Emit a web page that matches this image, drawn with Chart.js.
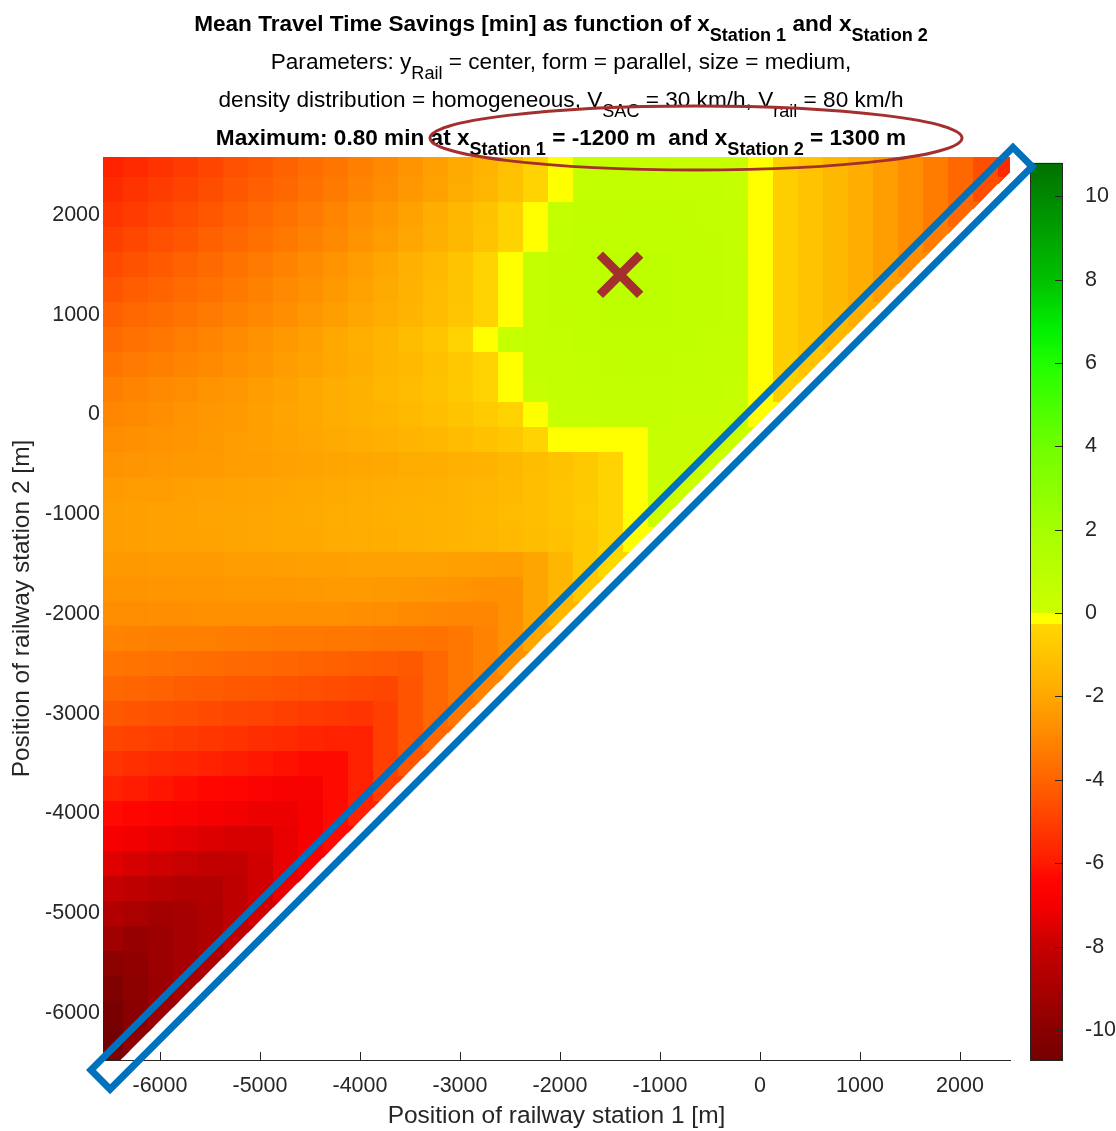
<!DOCTYPE html>
<html>
<head>
<meta charset="utf-8">
<script src="https://cdn.jsdelivr.net/npm/chart.js@4.4.1/dist/chart.umd.min.js"></script>
<style>
  html, body { margin: 0; padding: 0; background: #fff; }
  #wrap { width: 1116px; height: 1131px; }
</style>
</head>
<body>
<div id="wrap"><canvas id="savingsChart" width="1116" height="1131"></canvas></div>
<script>
const FONT = '"Liberation Sans", Arial, Helvetica, sans-serif';
const INK = '#262626';

// grid of station positions (m), 250 m apart
const X1_COLS = [-6500, -6250, -6000, -5750, -5500, -5250, -5000, -4750, -4500, -4250, -4000, -3750, -3500,
  -3250, -3000, -2750, -2500, -2250, -2000, -1750, -1500, -1250, -1000, -750, -500, -250, 0,
  250, 500, 750, 1000, 1250, 1500, 1750, 2000, 2250, 2500];
const X2_ROWS = [2500, 2250, 2000, 1750, 1500, 1250, 1000, 750, 500, 250, 0, -250, -500, -750, -1000,
  -1250, -1500, -1750, -2000, -2250, -2500, -2750, -3000, -3250, -3500, -3750, -4000, -4250,
  -4500, -4750, -5000, -5250, -5500, -5750, -6000, -6250, -6500];

// mean travel time savings [min], one row per x2 (top to bottom), columns x1 from -6500 up to x2
const SAVINGS = [
  [-5.8,-5.56,-5.32,-5.08,-4.83,-4.57,-4.31,-4.05,-3.77,-3.49,-3.2,-2.9,-2.58,-2.26,-1.91,-1.53,-1.09,-0.45,-0.1,0.5,0.5,0.5,0.5,0.47,0.45,0.4,-0.1,-0.6,-1.0,-1.4,-1.8,-2.3,-2.8,-3.3,-3.9,-4.6,-5.6],
  [-5.55,-5.33,-5.09,-4.86,-4.62,-4.38,-4.13,-3.88,-3.62,-3.35,-3.07,-2.79,-2.48,-2.17,-1.84,-1.48,-1.06,-0.45,-0.1,0.55,0.6,0.6,0.6,0.55,0.5,0.45,-0.1,-0.6,-1.0,-1.4,-1.8,-2.3,-2.8,-3.3,-3.9,-4.6],
  [-5.3,-5.07,-4.84,-4.6,-4.36,-4.11,-3.86,-3.6,-3.34,-3.06,-2.77,-2.48,-2.17,-1.83,-1.47,-1.06,-0.45,-0.1,0.55,0.65,0.65,0.7,0.7,0.65,0.6,0.5,-0.1,-0.6,-1.0,-1.4,-1.8,-2.3,-2.8,-3.3,-3.9],
  [-5.0,-4.79,-4.57,-4.34,-4.12,-3.89,-3.65,-3.41,-3.16,-2.9,-2.63,-2.35,-2.06,-1.75,-1.41,-1.02,-0.45,-0.1,0.6,0.7,0.75,0.75,0.75,0.7,0.65,0.55,-0.1,-0.6,-1.0,-1.4,-1.8,-2.3,-2.8,-3.3],
  [-4.7,-4.49,-4.27,-4.05,-3.82,-3.59,-3.35,-3.1,-2.85,-2.59,-2.32,-2.03,-1.72,-1.39,-1.01,-0.45,-0.1,0.55,0.65,0.75,0.8,0.8,0.8,0.75,0.7,0.6,-0.1,-0.6,-1.0,-1.4,-1.8,-2.3,-2.8],
  [-4.4,-4.2,-4.0,-3.79,-3.58,-3.37,-3.14,-2.91,-2.68,-2.44,-2.18,-1.92,-1.63,-1.32,-0.97,-0.45,-0.1,0.55,0.7,0.75,0.8,0.8,0.8,0.75,0.7,0.6,-0.1,-0.6,-1.0,-1.4,-1.8,-2.3],
  [-4.1,-3.92,-3.73,-3.54,-3.34,-3.14,-2.94,-2.73,-2.51,-2.29,-2.05,-1.8,-1.54,-1.26,-0.93,-0.45,-0.1,0.55,0.65,0.75,0.8,0.8,0.8,0.75,0.7,0.6,-0.1,-0.6,-1.0,-1.4,-1.8],
  [-3.8,-3.62,-3.43,-3.25,-3.05,-2.86,-2.65,-2.44,-2.23,-2.0,-1.76,-1.51,-1.23,-0.91,-0.45,-0.1,0.45,0.55,0.6,0.7,0.75,0.75,0.75,0.7,0.6,0.55,-0.1,-0.6,-1.0,-1.4],
  [-3.5,-3.35,-3.19,-3.03,-2.87,-2.7,-2.53,-2.35,-2.17,-1.98,-1.79,-1.58,-1.36,-1.12,-0.85,-0.45,-0.1,0.5,0.55,0.6,0.65,0.7,0.65,0.6,0.55,0.5,-0.1,-0.6,-1.0],
  [-3.2,-3.06,-2.92,-2.78,-2.63,-2.48,-2.33,-2.17,-2.0,-1.83,-1.66,-1.47,-1.27,-1.06,-0.81,-0.45,-0.1,0.45,0.5,0.55,0.6,0.6,0.6,0.55,0.5,0.45,-0.1,-0.6],
  [-3.0,-2.88,-2.76,-2.63,-2.51,-2.38,-2.24,-2.11,-1.97,-1.82,-1.67,-1.52,-1.35,-1.18,-0.99,-0.77,-0.45,-0.1,0.45,0.45,0.5,0.5,0.5,0.45,0.45,0.4,-0.1],
  [-2.8,-2.72,-2.63,-2.54,-2.45,-2.36,-2.26,-2.16,-2.05,-1.94,-1.83,-1.71,-1.58,-1.44,-1.28,-1.1,-0.88,-0.45,-0.1,-0.1,-0.1,-0.1,0.4,0.4,0.35,0.3],
  [-2.6,-2.55,-2.5,-2.45,-2.4,-2.34,-2.28,-2.22,-2.16,-2.09,-2.02,-1.95,-1.87,-1.79,-1.7,-1.6,-1.4,-1.25,-1.05,-0.8,-0.45,-0.1,0.35,0.3,0.25],
  [-2.4,-2.36,-2.31,-2.26,-2.21,-2.16,-2.11,-2.06,-2.0,-1.94,-1.88,-1.81,-1.74,-1.67,-1.58,-1.5,-1.35,-1.2,-1.0,-0.78,-0.45,-0.1,0.25,0.2],
  [-2.3,-2.26,-2.22,-2.17,-2.12,-2.08,-2.03,-1.98,-1.92,-1.86,-1.8,-1.74,-1.67,-1.6,-1.52,-1.44,-1.3,-1.16,-0.98,-0.76,-0.45,-0.1,0.15],
  [-2.3,-2.26,-2.22,-2.18,-2.14,-2.1,-2.05,-2.0,-1.95,-1.9,-1.84,-1.78,-1.72,-1.65,-1.57,-1.48,-1.38,-1.25,-1.1,-0.85,-0.45,-0.1],
  [-2.45,-2.43,-2.41,-2.39,-2.37,-2.35,-2.32,-2.29,-2.26,-2.23,-2.2,-2.2,-2.2,-2.22,-2.25,-2.3,-2.35,-2.1,-1.5,-0.8,-0.3],
  [-2.6,-2.58,-2.56,-2.54,-2.52,-2.5,-2.48,-2.46,-2.44,-2.42,-2.42,-2.44,-2.48,-2.55,-2.62,-2.7,-2.7,-2.1,-1.5,-0.8],
  [-2.8,-2.78,-2.76,-2.74,-2.72,-2.7,-2.69,-2.68,-2.68,-2.7,-2.74,-2.8,-2.87,-2.94,-3.0,-3.0,-2.7,-2.1,-1.5],
  [-3.1,-3.14,-3.18,-3.22,-3.25,-3.29,-3.33,-3.37,-3.41,-3.45,-3.48,-3.52,-3.56,-3.6,-3.45,-3.1,-2.7,-2.1],
  [-3.5,-3.57,-3.63,-3.7,-3.77,-3.83,-3.9,-3.97,-4.03,-4.1,-4.17,-4.23,-4.3,-3.9,-3.45,-3.1,-2.7],
  [-3.9,-3.98,-4.06,-4.15,-4.23,-4.31,-4.39,-4.47,-4.55,-4.64,-4.72,-4.8,-4.4,-3.9,-3.45,-3.1],
  [-4.3,-4.4,-4.5,-4.6,-4.7,-4.8,-4.9,-5.0,-5.1,-5.2,-5.3,-5.0,-4.4,-3.9,-3.45],
  [-4.8,-4.91,-5.02,-5.13,-5.24,-5.36,-5.47,-5.58,-5.69,-5.8,-5.8,-5.0,-4.4,-3.9],
  [-5.3,-5.43,-5.55,-5.68,-5.8,-5.93,-6.05,-6.18,-6.3,-6.3,-5.8,-5.0,-4.4],
  [-5.8,-5.94,-6.09,-6.23,-6.37,-6.51,-6.66,-6.8,-6.8,-6.3,-5.8,-5.0],
  [-6.3,-6.45,-6.6,-6.75,-6.9,-7.05,-7.2,-7.2,-6.9,-6.3,-5.8],
  [-6.9,-7.06,-7.22,-7.38,-7.54,-7.7,-7.7,-7.3,-6.9,-6.3],
  [-7.5,-7.68,-7.85,-8.03,-8.2,-8.2,-7.8,-7.3,-6.9],
  [-8.1,-8.3,-8.5,-8.7,-8.7,-8.3,-7.8,-7.3],
  [-8.7,-8.95,-9.2,-9.1,-8.8,-8.3,-7.8],
  [-9.3,-9.6,-9.4,-9.1,-8.8,-8.3],
  [-9.9,-9.8,-9.4,-9.1,-8.8],
  [-10.3,-9.9,-9.5,-9.1],
  [-10.6,-10.0,-9.5],
  [-10.7,-9.9],
  [-10.4]
];

const MAX_MARK_X1 = [-1400];
const MAX_MARK_X2 = [1400];

const X_TICKS = [-6000, -5000, -4000, -3000, -2000, -1000, 0, 1000, 2000];
const Y_TICKS = [-6000, -5000, -4000, -3000, -2000, -1000, 0, 1000, 2000];
const CB_TICKS = [-10, -8, -6, -4, -2, 0, 2, 4, 6, 8, 10];

// colour map of the colorbar (value -> colour); doubled values give hard steps
const CMAP_VALUES = [-10.72, -10, -8, -7, -6.4, -6, -4, -2, -0.25, -0.25, 0, 0, 2, 4, 6, 6.8, 8, 10, 10.8];
const CMAP_COLORS = ['#740000', '#8a0000', '#c80000', '#f50000', '#ff0500', '#ff1a00', '#ff6400', '#ffa800',
  '#ffd800', '#ffff00', '#ffff00', '#ceff00', '#a6ff00', '#70ff00', '#20ff00', '#00f000', '#00c000', '#008800', '#007000'];

const TITLE_LINES = [
  { bold: true, parts: [['Mean Travel Time Savings [min] as function of x', 0], ['Station 1', 1], [' and x', 0], ['Station 2', 1]] },
  { bold: false, parts: [['Parameters: y', 0], ['Rail', 1], [' = center, form = parallel, size = medium,', 0]] },
  { bold: false, parts: [['density distribution = homogeneous, V', 0], ['SAC', 1], [' = 30 km/h, V', 0], ['rail', 1], [' = 80 km/h', 0]] },
  { bold: true, parts: [['Maximum: 0.80 min at x', 0], ['Station 1', 1], [' = -1200 m  and x', 0], ['Station 2', 1], [' = 1300 m', 0]] }
];

const CELL = 250;

function hexRgb(h) {
  return [parseInt(h.slice(1, 3), 16), parseInt(h.slice(3, 5), 16), parseInt(h.slice(5, 7), 16)];
}

function savingsColor(v) {
  const n = CMAP_VALUES.length;
  if (v <= CMAP_VALUES[0]) return CMAP_COLORS[0];
  for (let i = 0; i < n - 1; i++) {
    if (v <= CMAP_VALUES[i + 1]) {
      const a = CMAP_VALUES[i], b = CMAP_VALUES[i + 1];
      if (b === a) return CMAP_COLORS[i + 1];
      const t = (v - a) / (b - a);
      const c1 = hexRgb(CMAP_COLORS[i]), c2 = hexRgb(CMAP_COLORS[i + 1]);
      const c = c1.map((k, j) => Math.round(k + (c2[j] - k) * t));
      return 'rgb(' + c.join(',') + ')';
    }
  }
  return CMAP_COLORS[n - 1];
}

const heatPoints = [];
X2_ROWS.forEach((x2, r) => {
  SAVINGS[r].forEach((v, j) => heatPoints.push({ x: X1_COLS[j], y: x2, v: v }));
});

// draws each grid value as a coloured cell; cells on the diagonal are cut along it
const heatCells = {
  id: 'heatCells',
  beforeDatasetsDraw(chart) {
    const { ctx, chartArea: a, scales: { x, y } } = chart;
    const half = CELL / 2, reach = 70;
    ctx.save();
    ctx.beginPath();
    ctx.rect(a.left, a.top, a.right - a.left, a.bottom - a.top);
    ctx.clip();
    chart.data.datasets[0].data.forEach(p => {
      ctx.fillStyle = savingsColor(p.v);
      const l = Math.round(x.getPixelForValue(p.x - half));
      const r = Math.round(x.getPixelForValue(p.x + half));
      const t = Math.round(y.getPixelForValue(p.y + half));
      const b = Math.round(y.getPixelForValue(p.y - half));
      if (p.x < p.y) {
        ctx.fillRect(l, t, r - l, b - t);
        return;
      }
      ctx.beginPath();
      ctx.moveTo(l, t);
      ctx.lineTo(x.getPixelForValue(p.x + half + reach), t);
      ctx.lineTo(l, y.getPixelForValue(p.y - half - reach));
      ctx.closePath();
      ctx.fill();
    });
    ctx.restore();
  }
};

function drawRichLine(ctx, line, cx, baseline, size) {
  const w = line.bold ? 'bold ' : '';
  const mainFont = w + size + 'px ' + FONT;
  const subFont = w + (size * 0.8).toFixed(1) + 'px ' + FONT;
  let total = 0;
  const widths = line.parts.map(([t, sub]) => {
    ctx.font = sub ? subFont : mainFont;
    const m = ctx.measureText(t).width;
    total += m;
    return m;
  });
  let xx = cx - total / 2;
  line.parts.forEach(([t, sub], i) => {
    ctx.font = sub ? subFont : mainFont;
    ctx.fillText(t, xx, baseline + (sub ? size * 0.44 : 0));
    xx += widths[i];
  });
}

const overlay = {
  id: 'overlay',
  afterDraw(chart) {
    const { ctx, chartArea: a, scales: { x, y, cb } } = chart;
    ctx.save();

    // x tick marks point into the axes
    ctx.strokeStyle = INK;
    ctx.lineWidth = 1;
    X_TICKS.forEach(t => {
      const px = Math.round(x.getPixelForValue(t)) + 0.5;
      ctx.beginPath();
      ctx.moveTo(px, a.bottom);
      ctx.lineTo(px, a.bottom - 8);
      ctx.stroke();
    });

    // colorbar
    const cbLeft = a.right + 20, cbW = 32;
    const cbTop = cb.getPixelForValue(CMAP_VALUES[CMAP_VALUES.length - 1]);
    const cbBottom = cb.getPixelForValue(CMAP_VALUES[0]);
    const grad = ctx.createLinearGradient(0, cbBottom, 0, cbTop);
    const span = CMAP_VALUES[CMAP_VALUES.length - 1] - CMAP_VALUES[0];
    CMAP_VALUES.forEach((v, i) => grad.addColorStop((v - CMAP_VALUES[0]) / span, CMAP_COLORS[i]));
    ctx.fillStyle = grad;
    ctx.fillRect(cbLeft, cbTop, cbW, cbBottom - cbTop);
    ctx.strokeStyle = INK;
    ctx.strokeRect(cbLeft + 0.5, Math.round(cbTop) + 0.5, cbW, Math.round(cbBottom - cbTop));
    ctx.fillStyle = INK;
    ctx.font = '21.5px ' + FONT;
    ctx.textAlign = 'left';
    ctx.textBaseline = 'middle';
    CB_TICKS.forEach(t => {
      const py = Math.round(cb.getPixelForValue(t)) + 0.5;
      ctx.beginPath();
      ctx.moveTo(cbLeft + cbW - 7, py);
      ctx.lineTo(cbLeft + cbW, py);
      ctx.stroke();
      ctx.fillText(String(t), cbLeft + 55, py);
    });

    // blue frame along the diagonal
    const p1x = x.getPixelForValue(-6595), p1y = y.getPixelForValue(-6667);
    const p2x = x.getPixelForValue(2625), p2y = y.getPixelForValue(2581);
    const len = Math.hypot(p2x - p1x, p2y - p1y);
    ctx.save();
    ctx.translate((p1x + p2x) / 2, (p1y + p2y) / 2);
    ctx.rotate(Math.atan2(p2y - p1y, p2x - p1x));
    ctx.strokeStyle = '#0072bd';
    ctx.lineWidth = 7;
    ctx.lineJoin = 'miter';
    ctx.strokeRect(-len / 2, -13.5, len, 27);
    ctx.restore();

    // title
    ctx.fillStyle = '#000';
    ctx.textAlign = 'left';
    ctx.textBaseline = 'alphabetic';
    const baselines = [31, 69, 107, 145];
    TITLE_LINES.forEach((line, i) => drawRichLine(ctx, line, 561, baselines[i], 22.6));

    // ellipse round the maximum text
    ctx.strokeStyle = '#a3302f';
    ctx.lineWidth = 3;
    ctx.beginPath();
    ctx.ellipse(x.getPixelForValue(-640), a.top - 19, 266, 32, 0, 0, Math.PI * 2);
    ctx.stroke();

    ctx.restore();
  }
};

const tickFont = { family: FONT, size: 21.5 };

new Chart(document.getElementById('savingsChart'), {
  type: 'scatter',
  data: {
    datasets: [
      { label: 'savings', data: heatPoints, pointRadius: 0, pointHoverRadius: 0 },
      {
        label: 'maximum',
        data: MAX_MARK_X1.map((v, i) => ({ x: v, y: MAX_MARK_X2[i] })),
        pointStyle: 'crossRot',
        pointRadius: 28.5,
        borderWidth: 9,
        borderColor: '#a3302f',
        backgroundColor: '#a3302f'
      }
    ]
  },
  options: {
    responsive: false,
    animation: false,
    devicePixelRatio: 1,
    layout: { padding: { top: 157, right: 106, left: 0, bottom: 0 } },
    plugins: { legend: { display: false }, tooltip: { enabled: false }, title: { display: false } },
    scales: {
      x: {
        type: 'linear',
        min: -6570,
        max: 2500,
        afterFit: s => { s.height = 71; },
        afterBuildTicks: s => { s.ticks = X_TICKS.map(v => ({ value: v })); },
        grid: { display: false, drawTicks: false },
        border: { display: true, color: INK, width: 1 },
        ticks: { font: tickFont, color: INK, padding: 13, callback: v => String(v), maxRotation: 0 },
        title: { display: true, text: 'Position of railway station 1 [m]', color: INK,
          font: { family: FONT, size: 24.5 }, padding: { top: 0, bottom: 0 } }
      },
      y: {
        type: 'linear',
        min: -6470,
        max: 2580,
        afterFit: s => { s.width = 103; },
        afterBuildTicks: s => { s.ticks = Y_TICKS.map(v => ({ value: v })); },
        grid: { display: false, drawTicks: false },
        border: { display: false },
        ticks: { font: tickFont, color: INK, padding: 3, callback: v => String(v) },
        title: { display: true, text: 'Position of railway station 2 [m]', color: INK,
          font: { family: FONT, size: 24.5 }, padding: { top: 8, bottom: 0 } }
      },
      cb: {
        type: 'linear',
        position: 'right',
        display: false,
        min: -10.72,
        max: 10.94
      }
    }
  },
  plugins: [heatCells, overlay]
});
</script>
</body>
</html>
